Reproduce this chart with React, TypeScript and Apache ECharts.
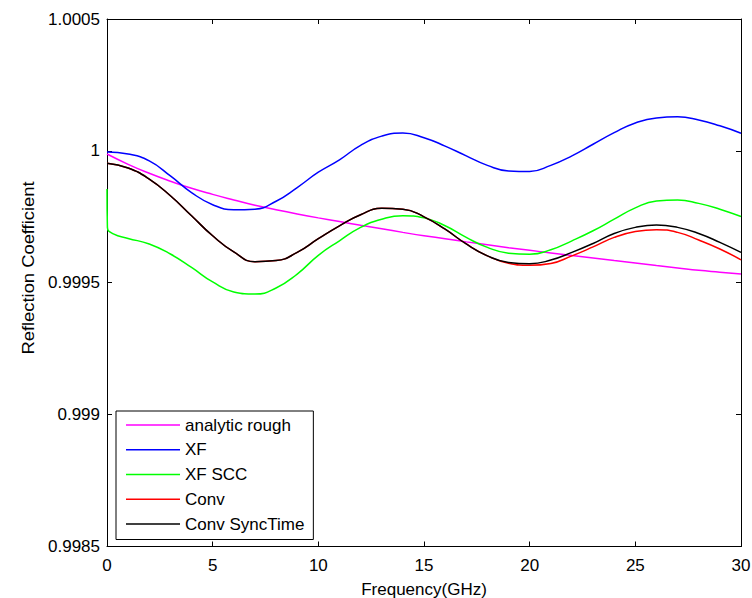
import React, { useEffect, useRef } from "react";
import * as echarts from "echarts";

const FREQ = [0, 1, 2, 3, 4, 5, 6, 7, 8, 9, 10, 11, 12, 13, 14, 15, 16, 17, 18, 19, 20, 21, 22, 23, 24, 25, 26, 27, 28, 29, 30];
const FREQ_SCC = [0, 0.02, 0.3, 1, 2, 3, 4, 5, 6, 7, 8, 9, 10, 11, 12, 13, 14, 15, 16, 17, 18, 19, 20, 21, 22, 23, 24, 25, 26, 27, 28, 29, 30];

const ANALYTIC_ROUGH = [
  0.999988, 0.999949, 0.999915, 0.999885, 0.999858, 0.999835, 0.999814, 0.999794, 0.999777, 0.999761,
  0.999746, 0.999732, 0.999718, 0.999705, 0.999691, 0.999678, 0.999667, 0.999655, 0.999644, 0.999633,
  0.999623, 0.999613, 0.999603, 0.999594, 0.999584, 0.999575, 0.999565, 0.999556, 0.999547, 0.999540,
  0.999533,
];
const XF = [
  0.999996, 0.999988, 0.999962, 0.999905, 0.999842, 0.999796, 0.999777, 0.999779, 0.999809, 0.999861,
  0.999919, 0.999966, 1.000021, 1.000056, 1.000068, 1.000050, 1.000018, 0.999981, 0.999945, 0.999924,
  0.999922, 0.999945, 0.999981, 1.000025, 1.000069, 1.000106, 1.000125, 1.000129, 1.000117, 1.000095,
  1.000067,
];
const XF_SCC = [
  0.999855, 0.999710, 0.999685, 0.999668, 0.999647, 0.999609, 0.999558, 0.999503, 0.999465, 0.999457,
  0.999480, 0.999533, 0.999604, 0.999659, 0.999710, 0.999741, 0.999754, 0.999746, 0.999716, 0.999672,
  0.999634, 0.999612, 0.999608, 0.999625, 0.999659, 0.999697, 0.999741, 0.999784, 0.999810, 0.999814,
  0.999801, 0.999779, 0.999751,
];
const CONV = [
  0.999953, 0.999935, 0.999893, 0.999830, 0.999754, 0.999678, 0.999617, 0.999580, 0.999584, 0.999615,
  0.999667, 0.999716, 0.999758, 0.999782, 0.999779, 0.999750, 0.999703, 0.999647, 0.999602, 0.999574,
  0.999566, 0.999573, 0.999602, 0.999636, 0.999672, 0.999694, 0.999701, 0.999691, 0.999662, 0.999628,
  0.999587,
];
const CONV_SYNCTIME = [
  0.999953, 0.999935, 0.999893, 0.999830, 0.999754, 0.999678, 0.999617, 0.999580, 0.999584, 0.999615,
  0.999667, 0.999716, 0.999758, 0.999782, 0.999779, 0.999750, 0.999703, 0.999647, 0.999602, 0.999577,
  0.999572, 0.999586, 0.999615, 0.999649, 0.999687, 0.999710, 0.999719, 0.999710, 0.999687, 0.999653,
  0.999615,
];

const X_TICKS = [0, 5, 10, 15, 20, 25, 30];
const Y_TICKS = [0.9985, 0.999, 0.9995, 1, 1.0005];

const FONT = "Arial, 'Liberation Sans', sans-serif";
const FS = 17;

function pairs(xs: number[], ys: number[]) {
  return ys.map((y, i) => [xs[i], y]);
}

export default function App() {
  const ref = useRef<HTMLDivElement>(null);

  useEffect(() => {
    if (!ref.current) return;
    const chart = echarts.init(ref.current, undefined, { renderer: "svg" });
    const lineSeries = (name: string, xs: number[], ys: number[], color: string) => ({
      name,
      type: "line",
      xAxisIndex: 0,
      yAxisIndex: 0,
      data: pairs(xs, ys),
      showSymbol: false,
      symbol: "none",
      smooth: 0.5,
      lineStyle: { color, width: 1.5 },
      itemStyle: { color },
    });
    const xCommon = {
      type: "value",
      min: X_TICKS[0],
      max: X_TICKS[X_TICKS.length - 1],
      interval: 5,
      splitLine: { show: false },
      axisLine: { show: true, onZero: false, lineStyle: { color: "#000", width: 1 } },
      axisTick: { show: true, inside: true, length: 5, lineStyle: { color: "#000" } },
    };
    const yCommon = {
      type: "value",
      min: Y_TICKS[0],
      max: Y_TICKS[Y_TICKS.length - 1],
      interval: 0.0005,
      scale: true,
      splitLine: { show: false },
      axisLine: { show: true, onZero: false, lineStyle: { color: "#000", width: 1 } },
      axisTick: { show: true, inside: true, length: 5, lineStyle: { color: "#000" } },
    };
    chart.setOption({
      animation: false,
      backgroundColor: "#fff",
      textStyle: { fontFamily: FONT },
      grid: {
        left: 107,
        top: 19,
        width: 634,
        height: 527.5,
        containLabel: false,
        outerBoundsMode: "none",
      },
      legend: {
        orient: "vertical",
        left: 116,
        top: 411,
        padding: [5.5, 9, 7, 10],
        icon: "rect",
        itemWidth: 54,
        itemHeight: 1.5,
        itemGap: 7.75,
        borderColor: "#000",
        borderWidth: 1,
        backgroundColor: "#fff",
        borderRadius: 0,
        textStyle: { fontSize: FS, color: "#000", fontFamily: FONT },
        data: ["analytic rough", "XF", "XF SCC", "Conv", "Conv SyncTime"],
      },
      xAxis: [
        {
          ...xCommon,
          position: "bottom",
          name: "Frequency(GHz)",
          nameLocation: "middle",
          nameGap: 34,
          nameTextStyle: { fontSize: FS, color: "#000", fontFamily: FONT },
          axisLabel: { show: true, margin: 10, fontSize: FS, color: "#000", fontFamily: FONT },
        },
        { ...xCommon, position: "top", axisLabel: { show: false } },
      ],
      yAxis: [
        {
          ...yCommon,
          position: "left",
          axisLabel: {
            show: true,
            margin: 7,
            fontSize: FS,
            color: "#000",
            fontFamily: FONT,
            formatter: (v: number) => String(+v.toFixed(4)),
          },
        },
        { ...yCommon, position: "right", axisLabel: { show: false } },
      ],
      graphic: [
        {
          type: "text",
          x: 28.5,
          y: 268,
          rotation: Math.PI / 2,
          scaleX: 1.08,
          style: {
            text: "Reflection Coefficient",
            fill: "#000",
            fontSize: FS,
            fontFamily: FONT,
            align: "center",
            verticalAlign: "middle",
          },
        },
      ],
      series: [
        lineSeries("analytic rough", FREQ, ANALYTIC_ROUGH, "#ff00ff"),
        lineSeries("XF", FREQ, XF, "#0000ff"),
        lineSeries("XF SCC", FREQ_SCC, XF_SCC, "#00ff00"),
        lineSeries("Conv", FREQ, CONV, "#ff0000"),
        lineSeries("Conv SyncTime", FREQ, CONV_SYNCTIME, "#000000"),
      ],
    });
    return () => chart.dispose();
  }, []);

  return <div ref={ref} style={{ width: 752, height: 598, position: "absolute", left: 0, top: 0 }} />;
}
